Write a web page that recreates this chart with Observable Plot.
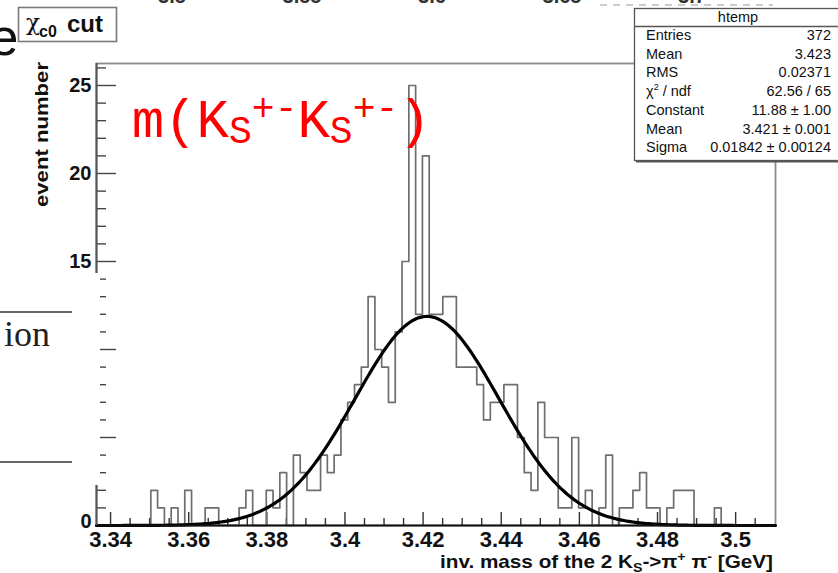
<!DOCTYPE html>
<html><head><meta charset="utf-8">
<script src="https://cdn.jsdelivr.net/npm/d3@7"></script>
<script src="https://cdn.jsdelivr.net/npm/@observablehq/plot@0.6"></script>
<style>
html,body{margin:0;padding:0;background:#fff;}
#chart{width:838px;height:573px;overflow:hidden;}
#chart svg{display:block;}
</style></head><body><div id="chart"></div>
<script>
// ---------- data ----------
const xMin = 3.3364, xMax = 3.5102, nBins = 100;
const counts = [
  0,0,0,0,0,0,0,0,2,1,
  0,1,0,2,0,0,1,1,0,0,
  0,1,2,0,0,2,1,3,0,4,
  3,2,2,4,3,4,6,7,8,9,
  13,10,9,7,11,15,25,12,21,12,
  12,13,13,9,9,9,8,6,7,7,
  8,8,5,3,2,7,5,5,1,1,
  5,1,2,0,1,4,0,1,1,2,
  3,1,1,0,1,2,2,2,0,0,
  0,1,0,0,0,0,0,0,0,0
];
// fit parameters (from stats box)
const fitConstant = 11.88, fitMean = 3.421, fitSigma = 0.01842;
const xMajor = [3.34,3.36,3.38,3.40,3.42,3.44,3.46,3.48,3.50];
const xTickLabels = ["3.34","3.36","3.38","3.4","3.42","3.44","3.46","3.48","3.5"];
const xMinor = [3.345,3.35,3.355,3.365,3.37,3.375,3.385,3.39,3.395,3.405,3.41,3.415,3.425,3.43,3.435,3.445,3.45,3.455,3.465,3.47,3.475,3.485,3.49,3.495,3.505];
const yMajor = [0,5,10,15,20,25];
const yMinor = [1,2,3,4,6,7,8,9,11,12,13,14,16,17,18,19,21,22,23,24,26];
const yLabels = [15,20,25];
const yMaxView = 26.25;
const statLabels = ["Entries","Mean","RMS","χ2 / ndf","Constant","Mean","Sigma"];
const statValues = ["372","3.423","0.02371","62.56 / 65","11.88 ± 1.00","3.421 ± 0.001","0.01842 ± 0.00124"];

// ---------- derived tables ----------
const binW = (xMax - xMin) / nBins;
const histPts = counts.map((c, i) => ({x: xMin + i * binW, y: c}));
histPts.push({x: xMax, y: counts[nBins - 1]});
const fitPts = d3.range(0, 301).map(k => {
  const x = xMin + (xMax - xMin) * k / 300;
  return {x, y: fitConstant * Math.exp(-0.5 * ((x - fitMean) / fitSigma) ** 2)};
});

// ---------- layout ----------
const W = 838, H = 573, mL = 96, mR = 63, mT = 63, mB = 48;
const plotW = W - mL - mR, plotH = H - mT - mB;
const sans = "'Liberation Sans', Arial, Helvetica, sans-serif";

const svg = Plot.plot({
  width: W, height: H,
  marginLeft: mL, marginRight: mR, marginTop: mT, marginBottom: mB,
  x: {domain: [xMin, xMax], axis: null},
  y: {domain: [0, yMaxView], axis: null},
  style: {fontFamily: sans, background: "#fff", color: "#111"},
  marks: [
    Plot.frame({stroke: "#8c8c8c", strokeWidth: 1.8}),
    Plot.ruleX(xMajor, {x: d => d, insetTop: plotH - 13, stroke: "#333", strokeWidth: 1.4}),
    Plot.ruleX(xMinor, {x: d => d, insetTop: plotH - 7, stroke: "#333", strokeWidth: 1.4}),
    Plot.ruleY(yMajor, {y: d => d, insetRight: plotW - 20, stroke: "#444", strokeWidth: 1.4}),
    Plot.ruleY(yMinor, {y: d => d, insetRight: plotW - 10, stroke: "#444", strokeWidth: 1.4}),
    Plot.line(histPts, {x: "x", y: "y", curve: "step-after", stroke: "#6e6e6e", strokeWidth: 1.7}),
    Plot.line(fitPts, {x: "x", y: "y", stroke: "#000", strokeWidth: 3.2}),
    Plot.ruleY([0], {stroke: "#111", strokeWidth: 2}),
    Plot.ruleX([xMin], {stroke: "#555", strokeWidth: 2}),
    Plot.text(xMajor, {x: d => d, text: (d, i) => xTickLabels[i], frameAnchor: "bottom", lineAnchor: "top", dy: 6,
      fontSize: 22, fontWeight: "bold", fill: "#111"}),
    Plot.text(yLabels, {y: d => d, text: d => String(d), frameAnchor: "left", textAnchor: "end", dx: -5,
      fontSize: 20, fontWeight: "bold", fill: "#111"}),
    Plot.text([0], {y: d => d, text: d => String(d), frameAnchor: "left", textAnchor: "end", dx: -5, dy: -4,
      fontSize: 20, fontWeight: "bold", fill: "#111"})
  ]
});
document.getElementById("chart").appendChild(svg);

const g = d3.select(svg).append("g").attr("text-anchor", "start");

// slide artifacts: white patch over lower-left axis, text fragments
g.append("rect").attr("x", -2).attr("y", 273).attr("width", 102).attr("height", 212).attr("fill", "#fff");
g.append("line").attr("x1", 0).attr("x2", 72).attr("y1", 312).attr("y2", 312).attr("stroke", "#333").attr("stroke-width", 1.6);
g.append("line").attr("x1", 0).attr("x2", 72).attr("y1", 462).attr("y2", 462).attr("stroke", "#333").attr("stroke-width", 1.6);
g.append("text").attr("x", 50).attr("y", 346).attr("text-anchor", "end")
  .attr("font-family", "'Liberation Serif','DejaVu Serif',serif").attr("font-size", 36).attr("fill", "#222").text("ion");
g.append("text").attr("x", 18.5).attr("y", 55).attr("text-anchor", "end")
  .attr("font-family", sans).attr("font-size", 52).attr("fill", "#111").text("e");
[["3.5", 172], ["3.55", 302], ["3.6", 432], ["3.65", 562], ["3.7", 692]].forEach(([s, x]) => {
  g.append("text").attr("x", x).attr("y", 3).attr("text-anchor", "middle")
    .attr("font-family", sans).attr("font-weight", "bold").attr("font-size", 20).attr("fill", "#333").text(s);
});
g.append("line").attr("x1", 600).attr("x2", 773).attr("y1", 5).attr("y2", 5)
  .attr("stroke", "#999").attr("stroke-width", 1).attr("stroke-dasharray", "7,6");

// title box
g.append("rect").attr("x", 18.5).attr("y", 7.5).attr("width", 98).attr("height", 34)
  .attr("fill", "#fff").attr("stroke", "#7a7a7a").attr("stroke-width", 1.6);
const tt = g.append("text").attr("font-family", sans).attr("fill", "#111");
tt.append("tspan").attr("x", 26).attr("y", 30).attr("font-family", "'DejaVu Serif','Liberation Serif',serif").attr("font-size", 23).text("χ");
tt.append("tspan").attr("x", 39).attr("y", 37).attr("font-size", 16).attr("font-weight", "bold").text("c0");
tt.append("tspan").attr("x", 67).attr("y", 32).attr("font-size", 24).attr("font-weight", "bold").text("cut");

// red label
const rt = g.append("text").attr("font-family", "'Liberation Mono','DejaVu Sans Mono',monospace")
  .attr("fill", "#ff0000").attr("x", 131.8).attr("y", 137).attr("font-size", 54);
rt.append("tspan").attr("y", 137).text("m(K");
rt.append("tspan").attr("y", 143).attr("font-size", 38).text("S");
rt.append("tspan").attr("y", 120).attr("font-size", 38).text("+-");
rt.append("tspan").attr("y", 137).text("K");
rt.append("tspan").attr("y", 143).attr("font-size", 38).text("S");
rt.append("tspan").attr("y", 120).attr("font-size", 38).text("+-");
rt.append("tspan").attr("y", 137).text(")");

// axis titles
g.append("text").attr("transform", "translate(48,207) rotate(-90)")
  .attr("font-family", sans).attr("font-weight", "bold").attr("font-size", 19).attr("fill", "#111")
  .attr("textLength", 145).attr("lengthAdjust", "spacingAndGlyphs").text("event number");
const xt = g.append("text").attr("x", 440).attr("y", 568)
  .attr("font-family", sans).attr("font-weight", "bold").attr("font-size", 19).attr("fill", "#111")
  .attr("textLength", 333).attr("lengthAdjust", "spacingAndGlyphs");
xt.append("tspan").text("inv. mass of the 2 K");
xt.append("tspan").attr("font-size", 13).attr("dy", 4).text("S");
xt.append("tspan").attr("dy", -4).text("->π");
xt.append("tspan").attr("font-size", 13).attr("dy", -7).text("+");
xt.append("tspan").attr("dy", 7).text(" π");
xt.append("tspan").attr("font-size", 13).attr("dy", -7).text("-");
xt.append("tspan").attr("dy", 7).text(" [GeV]");

// stats box
g.append("rect").attr("x", 636).attr("y", 10).attr("width", 207).attr("height", 152.5).attr("fill", "#555");
g.append("rect").attr("x", 634.5).attr("y", 8.5).attr("width", 206).attr("height", 152)
  .attr("fill", "#fff").attr("stroke", "#555").attr("stroke-width", 1.3);
g.append("line").attr("x1", 634.5).attr("x2", 842).attr("y1", 26.5).attr("y2", 26.5).attr("stroke", "#555").attr("stroke-width", 1.3);
g.append("text").attr("x", 738).attr("y", 22).attr("text-anchor", "middle")
  .attr("font-family", sans).attr("font-size", 14.5).attr("fill", "#111").text("htemp");
statLabels.forEach((lab, i) => {
  const yb = 40 + 18.7 * i;
  const t = g.append("text").attr("x", 646).attr("y", yb).attr("font-family", sans).attr("font-size", 14.5).attr("fill", "#111");
  if (lab.startsWith("χ2")) {
    t.append("tspan").text("χ");
    t.append("tspan").attr("font-size", 9).attr("dy", -6).text("2");
    t.append("tspan").attr("dy", 6).text(" / ndf");
  } else {
    t.text(lab);
  }
  g.append("text").attr("x", 831).attr("y", yb).attr("text-anchor", "end")
    .attr("font-family", sans).attr("font-size", 14.5).attr("fill", "#111").text(statValues[i]);
});
</script>
</body></html>
